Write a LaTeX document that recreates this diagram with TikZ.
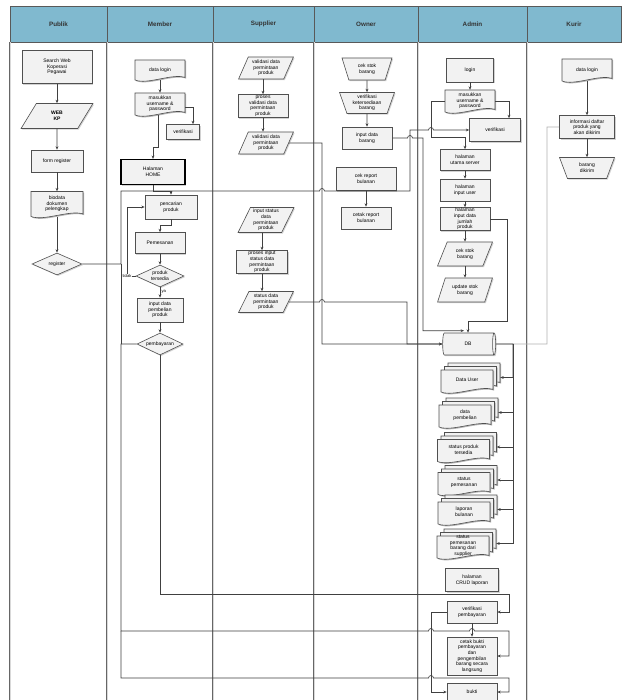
\documentclass[tikz,border=0pt]{standalone}
\usepackage{fontspec}
\setmainfont{Liberation Sans}
\usetikzlibrary{shapes.geometric,arrows.meta,shadows}
\definecolor{headblue}{RGB}{128,185,207}
\definecolor{boxfill}{RGB}{242,242,242}
\definecolor{boxline}{RGB}{80,80,80}
\newcommand\nfont{\fontsize{5}{5.6}\selectfont}
\newcommand\docpath[4]{({#1-#3/2},{#2-#4/2}) -- ({#1+#3/2},{#2-#4/2}) -- ({#1+#3/2},{#2+#4/2-2.5}) .. controls ({#1+#3/4},{#2+#4/2-7}) and ({#1-#3/4},{#2+#4/2+5}) .. ({#1-#3/2},{#2+#4/2}) -- cycle}
\newcommand\docnode[6]{%
  \fill[black!30,shift={(1.1,1.1)}] \docpath{#2}{#3}{#4}{#5};
  \filldraw[docsty] \docpath{#2}{#3}{#4}{#5};
  \node[txt,minimum width=#4pt,minimum height=#5pt] (#1) at (#2,#3) {#6};
}
\newcommand\mdoc[4]{%
  \foreach \d in {7,3.5,0} {
    \fill[black!30,shift={(1.1,1.1)}] \docpath{#2-3.5+\d}{#3+3.5-\d}{52}{22};
    \filldraw[docsty] \docpath{#2-3.5+\d}{#3+3.5-\d}{52}{22};
  }
  \node[txt,minimum width=59pt,minimum height=29pt] (#1) at (#2,#3) {};
  \node[txt] (#1-t) at ({#2-3.5},{#3+2.5}) {#4};
}
\newcommand\hop[2]{-- ({#1-2.5},#2) arc[start angle=180,end angle=360,radius=2.5]}
\tikzset{
  sz/.style 2 args={minimum width=#1pt, minimum height=#2pt},
  docsty/.style={fill=boxfill, draw=boxline, line width=0.6pt},
  base/.style={draw=boxline, fill=boxfill, line width=0.6pt, font=\nfont, align=center, inner sep=0.5pt,
    drop shadow={shadow xshift=1.1pt, shadow yshift=-1.1pt, opacity=0.35}},
  rbox/.style={base, rectangle},
  para/.style={base, trapezium, trapezium left angle=65, trapezium right angle=115, trapezium stretches=true},
  manop/.style={base, trapezium, trapezium left angle=72, trapezium right angle=72, shape border rotate=180, trapezium stretches=true},
  dia/.style={base, diamond, aspect=2.2, inner sep=0pt},
  cyl/.style={base, cylinder, shape aspect=0.7},
  txt/.style={rectangle, inner sep=0pt, font=\nfont, align=center},
  lbl/.style={font=\fontsize{4.2}{4.6}\selectfont, inner sep=0.3pt},
  con/.style={draw=black!75, line width=0.65pt},
  arr/.style={con, -{Stealth[length=3.4pt,width=2.8pt]}},
  gline/.style={draw=black!30, line width=0.8pt},
  lane/.style={draw=black!60, line width=0.5pt, double=black!15, double distance=0.9pt},
  headbox/.style={draw=black!65, fill=headblue, line width=0.9pt},
  headtxt/.style={font=\bfseries\fontsize{6.3}{7}\selectfont, text=black!80},
}
\begin{document}
\begin{tikzpicture}[x=1pt,y=-1pt]
\useasboundingbox (0,0) rectangle (621,700);
\fill[white] (0,0) rectangle (621,700);
% header and lanes
\foreach \a/\b/\t in {10/107/Publik,107/213/Member,213/314/Supplier,314/418/Owner,418/527/Admin,527/621/Kurir}{
  \draw[headbox] (\a,6) rectangle (\b,42);
  \node[headtxt] (h-\t) at ({(\a+\b)/2},24) {\t};
}
\foreach \x in {10,107,213,314,418,527}{
  \draw[lane] (\x,42) -- (\x,701);
}
% ---------- Publik
\node[rbox,sz={70}{33}] (p1) at (57,67) {Search Web\\Koperasi\\Pegawai};
\node[para,sz={72}{25},font=\bfseries\nfont] (p2) at (57,116) {WEB\\KP};
\node[rbox,sz={52}{22}] (p3) at (57,161) {form register};
\docnode{p4}{57}{204}{52}{25}{biodata\\dokumen\\pelengkap}
\node[dia,sz={50}{22}] (p5) at (57,264) {register};
% ---------- Member
\docnode{m1}{160}{70}{50}{20}{data login}
\docnode{m2}{160}{104}{50}{22}{masukkan\\username \&\\password}
\node[rbox,sz={33}{15}] (m3) at (183,132) {verifikasi};
\node[rbox,sz={64}{25},draw=black,line width=1.1pt] (m4) at (153,172) {Halaman\\HOME};
\node[rbox,sz={52}{24}] (m5) at (171,207) {pencarian\\produk};
\node[rbox,sz={50}{21}] (m6) at (160,243) {Pemesanan};
\node[dia,sz={48}{22}] (m7) at (160,276) {produk\\tersedia};
\node[rbox,sz={46}{24}] (m8) at (160,310) {input data\\pembelian\\produk};
\node[dia,sz={46}{22}] (m9) at (160,344) {pembayaran};
% ---------- Supplier
\node[para,sz={55}{22}] (s1) at (266,68) {validasi data\\permintaan\\produk};
\node[rbox,sz={50}{23}] (s2) at (263,106) {proses\\validasi data\\permintaan\\produk};
\node[para,sz={55}{22}] (s3) at (266,143) {validasi data\\permintaan\\produk};
\node[para,sz={56}{25}] (s4) at (266,220) {input status\\data\\permintaan\\produk};
\node[rbox,sz={51}{23}] (s5) at (262,262) {proses input\\status data\\permintaan\\produk};
\node[para,sz={55}{21}] (s6) at (266,302) {status data\\permintaan\\produk};
% ---------- Owner
\node[manop,sz={50}{22}] (o1) at (367,69) {cek stok\\barang};
\node[manop,sz={55}{21}] (o2) at (367,103) {verifikasi\\ketersediaan\\barang};
\node[rbox,sz={50}{22}] (o3) at (367,138) {input data\\barang};
\node[rbox,sz={60}{23}] (o4) at (366,179) {cek report\\bulanan};
\node[rbox,sz={50}{22}] (o5) at (366,218) {cetak report\\bulanan};
% ---------- Admin
\node[rbox,sz={47}{24}] (a1) at (470,70) {login};
\docnode{a2}{470}{101}{50}{22}{masukkan\\username \&\\password}
\node[rbox,sz={51}{23}] (a3) at (495,130) {verifikasi};
\node[rbox,sz={50}{21}] (a4) at (465,160) {halaman\\utama server};
\node[rbox,sz={50}{22}] (a5) at (465,190) {halaman\\input user};
\node[rbox,sz={50}{23}] (a6) at (465,219) {halaman\\input data\\jumlah\\produk};
\node[para,sz={55}{24}] (a7) at (465,254) {cek stok\\barang};
\node[para,sz={55}{24}] (a8) at (465,290) {update stok\\barang};
\node[cyl,minimum width=22pt,minimum height=53pt] (db) at (468,344) {DB};
\mdoc{md1}{470.5}{377.5}{Data User}
\mdoc{md2}{468.5}{412.5}{data\\pembelian}
\mdoc{md3}{467}{447}{status produk\\tersedia}
\mdoc{md4}{467.5}{480}{status\\pemesanan}
\mdoc{md5}{467.5}{509.5}{laporan\\bulanan}
\mdoc{md6}{466.5}{543.5}{status\\pemesanan\\barang dari\\supplier}
\node[rbox,sz={53}{23}] (a9) at (472,580) {halaman\\CRUD laporan};
\node[rbox,sz={50}{22}] (a10) at (472,612) {verifikasi\\pembayaran};
\node[rbox,sz={50}{38}] (a11) at (472,656) {cetak bukti\\pembayaran\\dan\\pengembilan\\barang secara\\langsung};
\node[rbox,sz={50}{18}] (a12) at (472,692) {bukti};
% ---------- Kurir
\docnode{k1}{587}{70}{50}{22}{data login}
\node[rbox,sz={55}{23}] (k2) at (587,127) {informasi daftar\\produk yang\\akan dikirim};
\node[manop,sz={55}{21}] (k3) at (587,168) {barang\\dikirim};

% ================= connectors
% Publik
\draw[arr] (p1) -- (p2);
\draw[arr] (p2) -- (p3);
\draw[arr] (p3) -- (p4);
\draw[arr] (p4) -- (p5);
% Member
\draw[arr] (m1) -- (m2);
\draw[arr] ([yshift=-3pt]m2.east) -| ([xshift=10pt]m3.north);
\draw[arr] ([xshift=-2pt]m2.south) -- ++(0,32) -| (m4.north);
\draw[arr] (m4.south) -- ++(0,6.5) -| (m5.north);
\draw[arr] (m5.south) -- ++(0,6) -| (m6.north);
\draw[arr] (m6) -- (m7);
\draw[arr] (m7) -- (m8) node[lbl,pos=0.45,right=1pt] {ya};
\draw[arr] (m8) -- (m9);
\draw[arr] (m7.west) -- ++(-8,0) |- (m5.west);
\node[lbl,fill=white] (tidak) at (127,276) {tidak};
% register -> long line to admin verifikasi
\draw[arr] (p5.east) -- (121,264) -- (121,191) \hop{322}{191} -- (410,191) -- (410,130) \hop{431}{130} -- (a3.west);
% Supplier
\draw[arr] (s1.south -| s2.north) -- (s2.north);
\draw[arr] (s2.south) -- (s2.south |- s3.north);
\draw[arr] (s4.south -| s5.north) -- (s5.north);
\draw[arr] (s5.south) -- (s5.south |- s6.north);
\draw[arr] (s3.east) -- (322,143) -- (322,344) -- (db.west);
\draw[arr] (s6.east) \hop{322}{302} -- (407,302) |- (db.west);
% Owner
\draw[arr] (o1) -- (o2);
\draw[arr] (o2) -- (o3);
\draw[arr] (o4) -- (o5);
\draw[arr] (o3.east) \hop{410}{138} -- (423,138) |- ([xshift=-4pt,yshift=2pt]db.north);
% Admin
\draw[arr] (a1) -- (a2);
\draw[arr] (a2.east) -| ([xshift=14pt]a3.north);
\draw[arr] (a2.west) -- (431,101) -- (431,137) -| (a4.north);
\draw[arr] (a4) -- (a5);
\draw[arr] (a5) -- (a6);
\draw[arr] (a6.south) -- (a6.south |- a7.north);
\draw[arr] (a7.south) -- (a7.south |- a8.north);
\draw[arr] (a6.east) -- ++(17,0) |- ([yshift=11pt]db.north) -- (db.north);
\draw[gline] (db.east) -- (547,344) |- (k2.west);
\coordinate (jdb) at (513,344);
\draw[arr] (db.east) -- (jdb) |- (md1.east);
\foreach \m in {md2,md3,md4,md5,md6}{ \draw[arr] (jdb) |- (\m.east); }
% payment
\draw[con] (121,264) -- (121,344);
\draw[arr] (m9.south) -- (160,594) -- (509,594) |- (a10.east);
\coordinate (jpay) at (121,631);
\draw[arr] (m9.west) -- (121,344) -- (jpay) \hop{431}{631} \hop{472}{631} -- (509,631) |- (a11.east);
\draw[arr] (jpay) -- (121,678) \hop{431}{678} -- (509,678) |- (a12.east);
\draw[arr] (a10.west) -- (431,612) |- (a12.west);
\draw[arr] (a10) -- (a11);
% Kurir
\draw[arr] (k1) -- (k2);
\draw[arr] (k2) -- (k3);
\end{tikzpicture}
\end{document}
